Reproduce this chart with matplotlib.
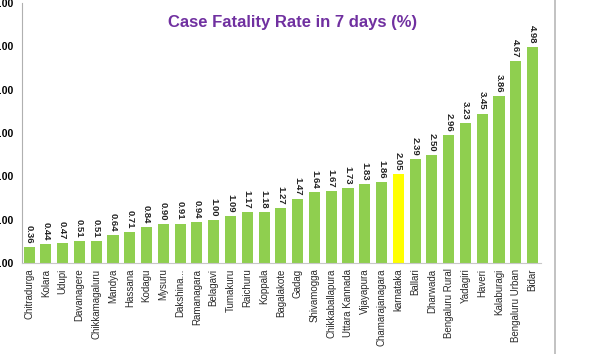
import numpy as np
import matplotlib.pyplot as plt
from matplotlib.lines import Line2D

plt.rcParams['font.family'] = ['Liberation Sans', 'DejaVu Sans']

districts = ['Chitradurga', 'Kolara', 'Udupi', 'Davanagere', 'Chikkamagaluru', 'Mandya',
             'Hassana', 'Kodagu', 'Mysuru', 'Dakshina...', 'Ramanagara', 'Belagavi',
             'Tumakuru', 'Raichuru', 'Koppala', 'Bagalakote', 'Gadag', 'Shivamogga',
             'Chikkaballapura', 'Uttara Kannada', 'Vijayapura', 'Chamarajanagara',
             'karnataka', 'Ballari', 'Dharwada', 'Bengaluru Rural', 'Yadagiri', 'Haveri',
             'Kalaburagi', 'Bengaluru Urban', 'Bidar']
cfr = [0.36, 0.44, 0.47, 0.51, 0.51, 0.64, 0.71, 0.84, 0.90, 0.91, 0.94, 1.00,
       1.09, 1.17, 1.18, 1.27, 1.47, 1.64, 1.67, 1.73, 1.83, 1.86, 2.05, 2.39,
       2.50, 2.96, 3.23, 3.45, 3.86, 4.67, 4.98]
highlight = 'karnataka'

green = '#8fcf4f'
yellow = '#ffff00'

fig = plt.figure(figsize=(5.9, 3.54), dpi=100)
ax = fig.add_axes([22/590, 91/354, 519/590, 260/354])

x = np.arange(len(districts))
cols = [yellow if d == highlight else green for d in districts]
ax.bar(x, cfr, width=0.66, color=cols)

for xi, v in zip(x, cfr):
    ax.text(xi, v + 0.08, '%.2f' % v, rotation=270, ha='center', va='bottom',
            fontsize=6.8, fontweight='bold', color='#222222')

ax.set_xlim(-0.42, len(districts) - 0.5)
ax.set_ylim(0, 6)
ax.set_yticks(np.arange(0, 7, 1))
# the slide is cropped, so only the end of each y label shows
ax.set_yticklabels(['%.2f' % t for t in range(7)], fontsize=7.5, fontweight='bold')
ax.tick_params(axis='y', length=0, pad=6)
ax.set_xticks(x)
ax.set_xticklabels(districts, rotation=90, fontsize=7, color='#2a2a2a')
ax.tick_params(axis='x', length=0, pad=4)

for s in ['top', 'right']:
    ax.spines[s].set_visible(False)
ax.spines['left'].set_color('#b0b0b0')
ax.spines['bottom'].set_color('#c8c8c8')

fig.text(293/590, 1 - 22/354, 'Case Fatality Rate in 7 days (%)', ha='center', va='center',
         fontsize=12, fontweight='bold', color='#7030a0')

# frame edge on the right
fig.add_artist(Line2D([555/590, 555/590], [0, 1], color='#b8b8b8', lw=1.2))

fig.savefig('out.png', dpi=100)
